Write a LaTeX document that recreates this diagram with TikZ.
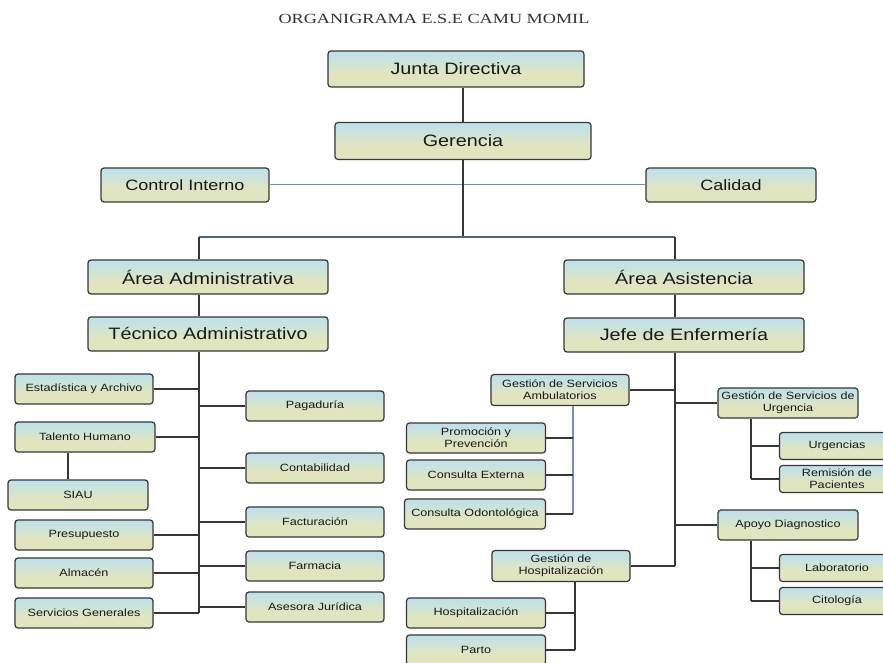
\documentclass[tikz,border=0pt]{standalone}
\usepackage{fontspec}
\setmainfont{Liberation Sans}[FakeStretch=1.2]
\newfontfamily\titlefont{Liberation Serif}[FakeStretch=1.3]
\usepackage{xcolor}

\definecolor{boxtop}{HTML}{BFE2EA}
\definecolor{boxbot}{HTML}{E0E5BF}
\definecolor{boxline}{HTML}{363636}
\definecolor{linkblue}{HTML}{6F8FC8}
\definecolor{splitblue}{HTML}{4D6385}
\pgfdeclareverticalshading{boxshade}{100bp}{color(0bp)=(boxbot); color(25bp)=(boxbot); color(45bp)=(boxbot); color(72bp)=(boxtop); color(100bp)=(boxtop)}

\tikzset{
  box/.style={draw=boxline, line width=1.2pt, rounded corners=3pt, shading=boxshade, text=black!90, inner sep=1pt, align=center},
  bigbox/.style={box, minimum width=240pt, minimum height=34pt, font=\fontsize{16.5}{18}\selectfont},
  sidebox/.style={box, minimum width=168pt, minimum height=34pt, font=\fontsize{15}{17}\selectfont},
  smallbox/.style={box, minimum width=138pt, minimum height=30pt, font=\fontsize{10.5}{12}\selectfont},
  leafbox/.style={box, minimum width=115pt, minimum height=27pt, font=\fontsize{10.5}{12}\selectfont},
  link/.style={draw=boxline, line width=1.3pt},
  bluelink/.style={draw=linkblue, line width=1pt}
}

\begin{document}
\begin{tikzpicture}[x=1pt, y=-1pt]
    \path[use as bounding box, fill=white] (0,0) rectangle (883,663);

    \node[font=\titlefont\fontsize{14}{16}\selectfont, text=black!80] (title) at (434,19) {ORGANIGRAMA E.S.E CAMU MOMIL};

    \node[bigbox, minimum width=256pt, minimum height=36pt] (junta) at (456,69) {Junta Directiva};
    \node[bigbox, minimum width=256pt, minimum height=37pt] (gerencia) at (463,141) {Gerencia};
    \node[sidebox] (control) at (185,185) {Control Interno};
    \node[sidebox, minimum width=170pt] (calidad) at (731,185) {Calidad};
    \node[bigbox] (areaadm) at (208,277) {Área Administrativa};
    \node[bigbox] (tecadm) at (208,334) {Técnico Administrativo};
    \node[bigbox] (areaasis) at (684,277) {Área Asistencia};
    \node[bigbox] (jefe) at (684,335) {Jefe de Enfermería};

    \node[smallbox] (estad) at (84,389) {Estadística y Archivo};
    \node[smallbox, minimum width=140pt] (talento) at (85,437) {Talento Humano};
    \node[smallbox, minimum width=140pt] (siau) at (78,495) {SIAU};
    \node[smallbox] (presu) at (84,535) {Presupuesto};
    \node[smallbox] (almacen) at (84,573) {Almacén};
    \node[smallbox] (servgen) at (84,613) {Servicios Generales};
    \node[smallbox] (pagad) at (315,406) {Pagaduría};
    \node[smallbox] (contab) at (315,468) {Contabilidad};
    \node[smallbox] (factur) at (315,522) {Facturación};
    \node[smallbox] (farmac) at (315,566) {Farmacia};
    \node[smallbox] (asesor) at (315,607) {Asesora Jurídica};

    \node[smallbox, minimum height=31pt] (gamb) at (560,390) {Gestión de Servicios\\Ambulatorios};
    \node[smallbox, minimum width=140pt] (gurg) at (788,403) {Gestión de Servicios de\\Urgencia};
    \node[smallbox, minimum width=140pt] (apoyo) at (788,525) {Apoyo Diagnostico};
    \node[smallbox, minimum height=31pt] (ghosp) at (561,566) {Gestión de\\Hospitalización};
    \node[smallbox, minimum width=139pt] (promo) at (476,438) {Promoción y\\Prevención};
    \node[smallbox, minimum width=139pt] (cext) at (476,475) {Consulta Externa};
    \node[smallbox, minimum width=141pt] (codon) at (475,514) {Consulta Odontológica};
    \node[smallbox, minimum width=139pt] (hosp) at (476,613) {Hospitalización};
    \node[smallbox, minimum width=139pt] (parto) at (476,650) {Parto};
    \node[leafbox] (urgen) at (837,446) {Urgencias};
    \node[leafbox] (remis) at (837,479) {Remisión de\\Pacientes};
    \node[leafbox] (lab) at (837,568) {Laboratorio};
    \node[leafbox] (cito) at (837,601) {Citología};

    \coordinate (split) at (463,237);
    \coordinate (admx) at (199,237);
    \coordinate (asisx) at (675,237);
    \coordinate (ambx) at (573,0);
    \coordinate (hospx) at (575,0);
    \coordinate (urgx) at (751,0);

    \draw[link] (junta.south -| gerencia.north) -- (gerencia.north);
    \draw[bluelink] (control) -- (calidad);
    \draw[link] (gerencia) -- (split);
    \draw[bluelink, draw=splitblue, line width=1.2pt] (admx) -- (asisx);

    \draw[link] (admx) -- (admx |- areaadm.north);
    \draw[link] (admx |- areaadm.south) -- (admx |- tecadm.north);
    \draw[link] (admx |- tecadm.south) -- (admx |- servgen);
    \foreach \n in {estad,talento,presu,almacen,servgen,pagad,contab,factur,farmac,asesor}
        \draw[link] (\n) -- (\n -| admx);
    \draw[link] ([xshift=-17pt]talento.south) -- ([xshift=-10pt]siau.north);

    \draw[link] (asisx) -- (asisx |- areaasis.north);
    \draw[link] (asisx |- areaasis.south) -- (asisx |- jefe.north);
    \draw[link] (asisx |- jefe.south) -- (asisx |- ghosp);
    \foreach \n in {gamb,gurg,apoyo,ghosp}
        \draw[link] (\n) -- (\n -| asisx);

    \draw[bluelink, line width=1.3pt] (gamb.south -| ambx) -- (ambx |- codon);
    \foreach \n in {promo,cext,codon}
        \draw[link] (\n) -- (\n -| ambx);
    \draw[link] (ghosp.south -| hospx) -- (hospx |- parto);
    \foreach \n in {hosp,parto}
        \draw[link] (\n) -- (\n -| hospx);
    \draw[link] (gurg.south -| urgx) -- (urgx |- remis);
    \foreach \n in {urgen,remis}
        \draw[link] (\n) -- (\n -| urgx);
    \draw[link] (apoyo.south -| urgx) -- (urgx |- cito);
    \foreach \n in {lab,cito}
        \draw[link] (\n) -- (\n -| urgx);
\end{tikzpicture}
\end{document}
